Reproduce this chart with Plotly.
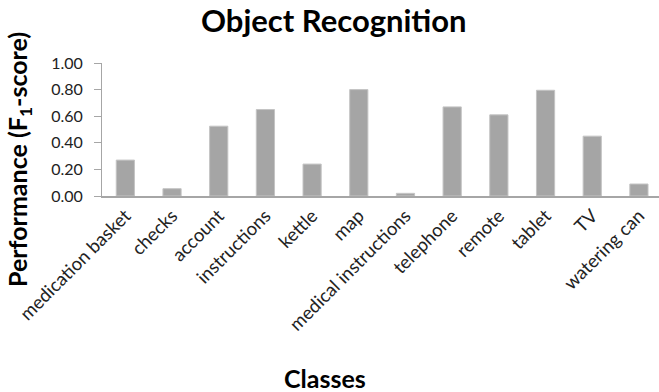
import plotly.graph_objects as go

classes = ["medication basket", "checks", "account", "instructions", "kettle", "map",
           "medical instructions", "telephone", "remote", "tablet", "TV", "watering can"]
f1_scores = [0.27, 0.055, 0.525, 0.65, 0.24, 0.80, 0.02, 0.67, 0.61, 0.795, 0.45, 0.09]
y_ticks = [0.0, 0.2, 0.4, 0.6, 0.8, 1.0]

FONT = "Lato"

fig = go.Figure(go.Bar(
    x=classes,
    y=f1_scores,
    marker=dict(color="#a5a5a5", line=dict(color="#c4c4c4", width=1)),
    width=0.39,
))

fig.update_layout(
    width=659, height=392,
    margin=dict(l=102, r=0, t=63, b=196),
    paper_bgcolor="white", plot_bgcolor="white",
    showlegend=False,
    font=dict(family=FONT, color="#222222", size=14),
    annotations=[
        dict(text="<b>Object Recognition</b>", xref="paper", yref="paper",
             x=0.4165, y=1.326, showarrow=False, font=dict(size=31, family=FONT, color="black"),
             xanchor="center", yanchor="middle"),
        dict(text="<b>Performance (F<sub>1</sub>-score)</b>", xref="paper", yref="paper",
             x=-0.149, y=0.271, textangle=-90, showarrow=False,
             font=dict(size=25, family=FONT, color="black"),
             xanchor="center", yanchor="middle"),
        dict(text="<b>Classes</b>", xref="paper", yref="paper",
             x=0.40, y=-1.371, showarrow=False, font=dict(size=25, family=FONT, color="black"),
             xanchor="center", yanchor="middle"),
    ],
)

fig.update_xaxes(
    type="category", range=[-0.5, 11.43], tickangle=-45, showline=True,
    linecolor="#a6a6a6", linewidth=1.5, ticks="", showgrid=False,
    tickfont=dict(size=18.5, family=FONT, color="#222222"),
)
fig.update_yaxes(
    range=[0, 1.0], tickvals=y_ticks, ticktext=[f"{v:.2f}" for v in y_ticks],
    showline=True, linecolor="#a6a6a6", linewidth=1, ticks="outside", ticklen=7,
    tickcolor="#a6a6a6", showgrid=False, zeroline=False, ticklabelstandoff=8,
    tickfont=dict(size=16, family=FONT, color="#222222"),
)

fig.write_html("out.html")
